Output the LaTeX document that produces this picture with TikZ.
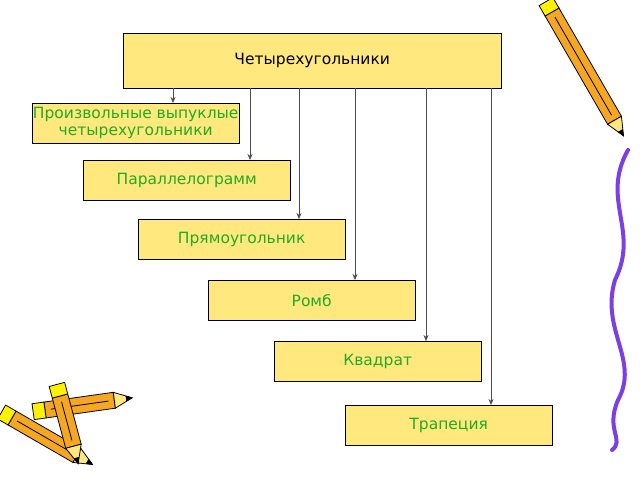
\documentclass[tikz,border=0pt]{standalone}
\usepackage{fontspec}
\setmainfont{DejaVu Sans}
\usetikzlibrary{arrows.meta}
\definecolor{boxyellow}{HTML}{FFE97F}
\definecolor{textgreen}{HTML}{22AA22}
\definecolor{penorange}{HTML}{F5A623}
\definecolor{penpurple}{HTML}{7B3FE4}
\tikzset{
  kind/.style={draw=black, fill=boxyellow, minimum width=207pt, minimum height=40pt,
    text=textgreen, font=\fontsize{15.5}{17}\selectfont, align=center, inner sep=0pt},
  link/.style={draw=black!70, -{Stealth[length=6pt,width=5pt]}},
}
\newcommand{\pencil}[4]{% x, y, angle, length
  \begin{scope}[shift={(#1,#2)}, rotate=#3]
    \draw[thick, fill=penorange] (0,-8) rectangle (#4,8);
    \draw[thick, fill=yellow] (0,-8) -- (0,8) -- (-12,8) -- (-12,-8) -- cycle;
    \draw[thick, fill=boxyellow] (#4,-8) -- (#4+18,0) -- (#4,8) -- cycle;
    \draw[fill=black] (#4+12,-2.5) -- (#4+18,0) -- (#4+12,2.5) -- cycle;
    \draw[thick] (6,0) -- (#4-6,0);
  \end{scope}}
\begin{document}
\begin{tikzpicture}[x=1pt,y=-1pt]
  \useasboundingbox (0,0) rectangle (640,480);
  % Oberbegriff
  \node[kind, text=black, minimum width=378pt, minimum height=55pt, anchor=north west] (quad) at (123,33) {Четырехугольники};
  % Unterbegriffe
  \node[kind, anchor=north west] (convex) at (32,103) {Произвольные выпуклые\\четырехугольники};
  \node[kind, anchor=north west] (para) at (83,160) {Параллелограмм};
  \node[kind, anchor=north west] (rect) at (138,219) {Прямоугольник};
  \node[kind, anchor=north west] (rhomb) at (208,280) {Ромб};
  \node[kind, anchor=north west] (square) at (274,341) {Квадрат};
  \node[kind, anchor=north west] (trap) at (345,405) {Трапеция};
  % Verbindungen
  \draw[link] (quad.south -| 173,0) -- (convex.north -| 173,0);
  \draw[link] (quad.south -| 250,0) -- (para.north -| 250,0);
  \draw[link] (quad.south -| 299,0) -- (rect.north -| 299,0);
  \draw[link] (quad.south -| 355,0) -- (rhomb.north -| 355,0);
  \draw[link] (quad.south -| 426,0) -- (square.north -| 426,0);
  \draw[link] (quad.south -| 491,0) -- (trap.north -| 491,0);
  % Stifte
  \pencil{552}{12}{-60}{125}
  \draw[penpurple, line width=4pt, line cap=round] (628,150) .. controls (600,200) and (640,230) .. (615,280)
    .. controls (600,330) and (640,360) .. (618,400) .. controls (605,430) and (625,440) .. (612,450);
  \pencil{12}{418}{-30}{75}
  \pencil{45}{410}{8}{70}
  \pencil{60}{396}{-75}{52}
\end{tikzpicture}
\end{document}
